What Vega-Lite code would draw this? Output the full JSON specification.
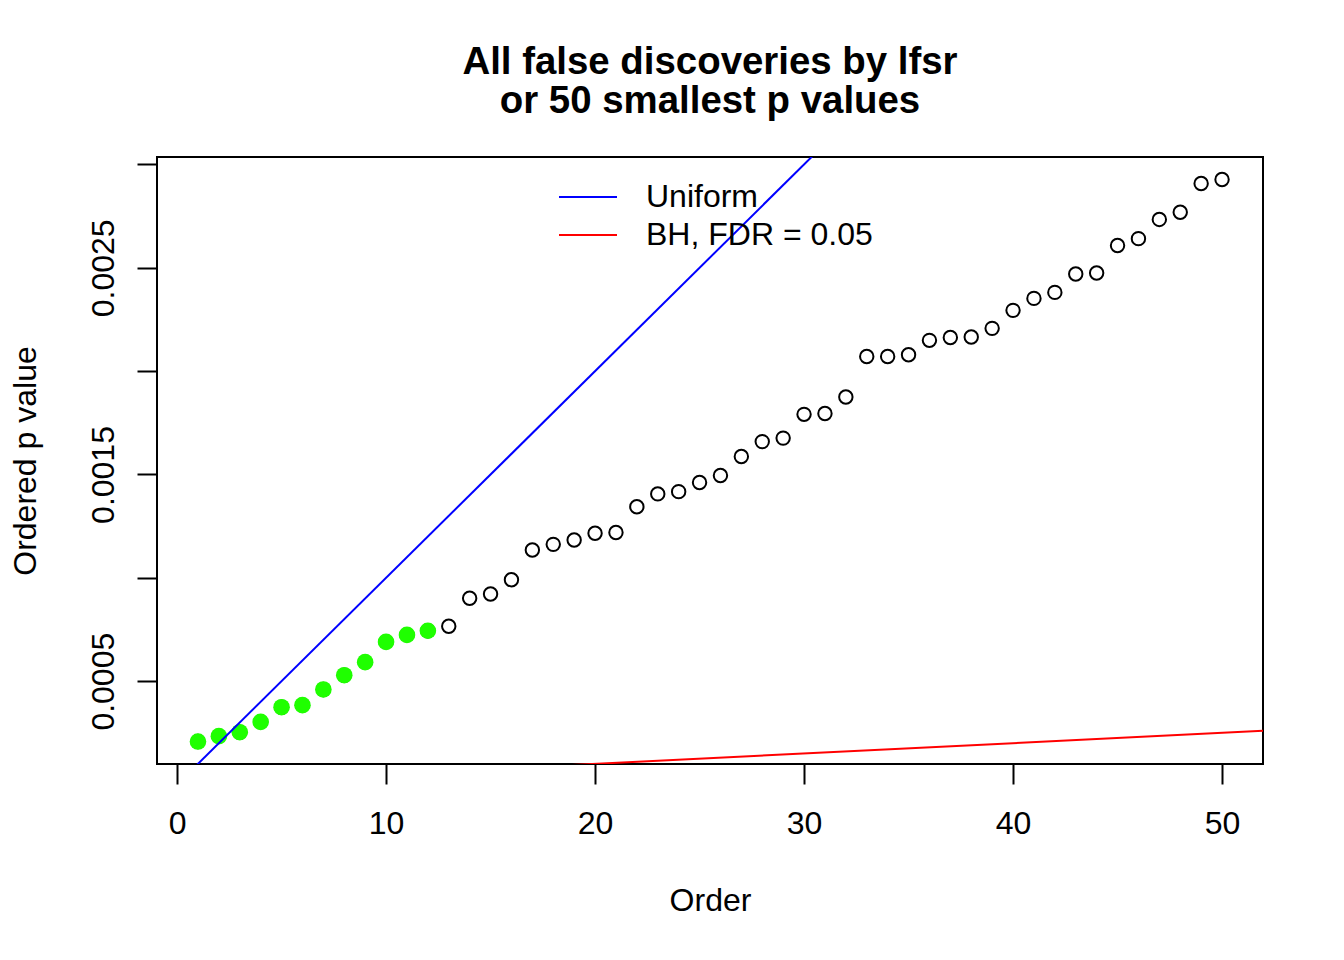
{
  "$schema": "https://vega.github.io/schema/vega-lite/v6.json",
  "width": 1106,
  "height": 607,
  "autosize": {"type": "none"},
  "padding": {"left": 157, "top": 157, "right": 81, "bottom": 196},
  "background": "white",
  "title": {
    "text": ["All false discoveries by lfsr", "or 50 smallest p values"],
    "fontSize": 38.4,
    "fontWeight": "bold",
    "font": "Liberation Sans",
    "color": "black",
    "lineHeight": 38.4,
    "anchor": "middle",
    "offset": 36
  },
  "datasets": {
    "pvals": [
      {"order": 1, "p": 0.000208, "lfsr": "yes"},
      {"order": 2, "p": 0.000234, "lfsr": "yes"},
      {"order": 3, "p": 0.000253, "lfsr": "yes"},
      {"order": 4, "p": 0.000303, "lfsr": "yes"},
      {"order": 5, "p": 0.000374, "lfsr": "yes"},
      {"order": 6, "p": 0.000384, "lfsr": "yes"},
      {"order": 7, "p": 0.000460, "lfsr": "yes"},
      {"order": 8, "p": 0.000529, "lfsr": "yes"},
      {"order": 9, "p": 0.000592, "lfsr": "yes"},
      {"order": 10, "p": 0.000690, "lfsr": "yes"},
      {"order": 11, "p": 0.000724, "lfsr": "yes"},
      {"order": 12, "p": 0.000744, "lfsr": "yes"},
      {"order": 13, "p": 0.000766, "lfsr": "no"},
      {"order": 14, "p": 0.000901, "lfsr": "no"},
      {"order": 15, "p": 0.000922, "lfsr": "no"},
      {"order": 16, "p": 0.000991, "lfsr": "no"},
      {"order": 17, "p": 0.001135, "lfsr": "no"},
      {"order": 18, "p": 0.001162, "lfsr": "no"},
      {"order": 19, "p": 0.001183, "lfsr": "no"},
      {"order": 20, "p": 0.001216, "lfsr": "no"},
      {"order": 21, "p": 0.001219, "lfsr": "no"},
      {"order": 22, "p": 0.001344, "lfsr": "no"},
      {"order": 23, "p": 0.001406, "lfsr": "no"},
      {"order": 24, "p": 0.001417, "lfsr": "no"},
      {"order": 25, "p": 0.001461, "lfsr": "no"},
      {"order": 26, "p": 0.001495, "lfsr": "no"},
      {"order": 27, "p": 0.001587, "lfsr": "no"},
      {"order": 28, "p": 0.001659, "lfsr": "no"},
      {"order": 29, "p": 0.001676, "lfsr": "no"},
      {"order": 30, "p": 0.001791, "lfsr": "no"},
      {"order": 31, "p": 0.001795, "lfsr": "no"},
      {"order": 32, "p": 0.001875, "lfsr": "no"},
      {"order": 33, "p": 0.002071, "lfsr": "no"},
      {"order": 34, "p": 0.002071, "lfsr": "no"},
      {"order": 35, "p": 0.002079, "lfsr": "no"},
      {"order": 36, "p": 0.002149, "lfsr": "no"},
      {"order": 37, "p": 0.002163, "lfsr": "no"},
      {"order": 38, "p": 0.002165, "lfsr": "no"},
      {"order": 39, "p": 0.002207, "lfsr": "no"},
      {"order": 40, "p": 0.002294, "lfsr": "no"},
      {"order": 41, "p": 0.002352, "lfsr": "no"},
      {"order": 42, "p": 0.002381, "lfsr": "no"},
      {"order": 43, "p": 0.002470, "lfsr": "no"},
      {"order": 44, "p": 0.002475, "lfsr": "no"},
      {"order": 45, "p": 0.002608, "lfsr": "no"},
      {"order": 46, "p": 0.002641, "lfsr": "no"},
      {"order": 47, "p": 0.002734, "lfsr": "no"},
      {"order": 48, "p": 0.002769, "lfsr": "no"},
      {"order": 49, "p": 0.002908, "lfsr": "no"},
      {"order": 50, "p": 0.002927, "lfsr": "no"}
    ],
    "reflines": [
      {"line": "Uniform", "order": -0.96, "p": -0.000096},
      {"line": "Uniform", "order": 51.96, "p": 0.005196},
      {"line": "BH, FDR = 0.05", "order": -0.96, "p": -0.0000048},
      {"line": "BH, FDR = 0.05", "order": 51.96, "p": 0.0002598}
    ]
  },
  "layer": [
    {
      "data": {"name": "pvals"},
      "mark": {"type": "point", "shape": "circle", "filled": false, "color": "black", "strokeWidth": 2, "size": 180, "opacity": 1},
      "encoding": {
        "x": {
          "field": "order", "type": "quantitative", "title": "Order",
          "scale": {"domain": [-0.96, 51.96], "nice": false, "zero": false},
          "axis": {"values": [0, 10, 20, 30, 40, 50], "labelPadding": 24, "titlePadding": 46}
        },
        "y": {
          "field": "p", "type": "quantitative", "title": "Ordered p value",
          "scale": {"domain": [0.0000993, 0.003036], "nice": false, "zero": false},
          "axis": {
            "values": [0.0005, 0.001, 0.0015, 0.002, 0.0025, 0.003],
            "format": ".4f",
            "labelExpr": "indexof(['0.0005','0.0015','0.0025'], datum.label) >= 0 ? datum.label : ''",
            "labelAngle": -90,
            "labelAlign": "center",
            "labelBaseline": "alphabetic",
            "labelPadding": 24,
            "titlePadding": 45
          }
        }
      }
    },
    {
      "data": {"name": "pvals"},
      "transform": [{"filter": "datum.lfsr == 'yes'"}],
      "mark": {"type": "circle", "color": "#1fff00", "size": 275, "opacity": 1},
      "encoding": {
        "x": {"field": "order", "type": "quantitative"},
        "y": {"field": "p", "type": "quantitative"}
      }
    },
    {
      "data": {"name": "reflines"},
      "mark": {"type": "line", "clip": true, "strokeWidth": 2},
      "encoding": {
        "x": {"field": "order", "type": "quantitative"},
        "y": {"field": "p", "type": "quantitative"},
        "color": {
          "field": "line", "type": "nominal",
          "scale": {"domain": ["Uniform", "BH, FDR = 0.05"], "range": ["#0000ff", "#ff0000"]},
          "legend": {
            "orient": "none", "legendX": 415, "legendY": 24, "title": null,
            "symbolType": "M-2,0L2,0", "symbolSize": 841, "symbolStrokeWidth": 2, "symbolFillColor": "transparent",
            "labelFontSize": 32, "labelFont": "Liberation Sans", "labelColor": "black",
            "labelOffset": 42, "rowPadding": 6, "padding": 0, "labelLimit": 0
          }
        }
      }
    }
  ],
  "config": {
    "font": "Liberation Sans",
    "view": {"stroke": "black", "strokeWidth": 2},
    "axis": {
      "domain": false,
      "grid": false,
      "ticks": true,
      "tickSize": 20,
      "tickWidth": 2,
      "tickColor": "black",
      "labelFontSize": 32,
      "labelColor": "black",
      "labelFont": "Liberation Sans",
      "labelOverlap": false,
      "labelBound": false,
      "labelFlush": false,
      "titleFontSize": 32,
      "titleFontWeight": "normal",
      "titleColor": "black",
      "titleFont": "Liberation Sans"
    }
  }
}
